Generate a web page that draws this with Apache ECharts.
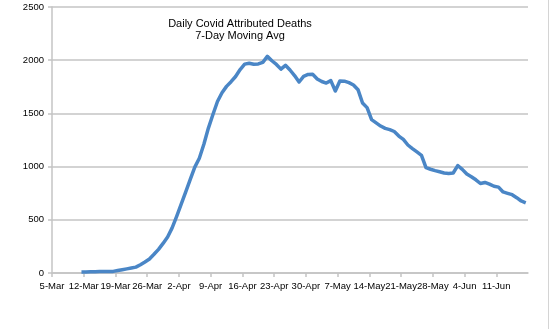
<!DOCTYPE html>
<html>
<head>
<meta charset="utf-8">
<script src="https://cdn.jsdelivr.net/npm/echarts@6/dist/echarts.min.js"></script>
<style>
html,body{margin:0;padding:0;background:#fff;}
#chart{width:550px;height:329px;}
</style>
</head>
<body>
<div id="chart"></div>
<script>
// Axis starts at 5-Mar; ticks every 7 days
const axisStart = '2020-03-05';
const seriesStart = '2020-03-11';
const tickLabels = ['5-Mar','12-Mar','19-Mar','26-Mar','2-Apr','9-Apr','16-Apr','23-Apr','30-Apr','7-May','14-May','21-May','28-May','4-Jun','11-Jun'];
const yTicks = [0, 500, 1000, 1500, 2000, 2500];
// 7-day moving average of daily deaths, one value per day from 11-Mar to 17-Jun
const deaths = [
  10, 10, 12, 12, 13, 14, 15, 15, 23, 31, 39, 47, 55, 78,
  104, 132, 176, 222, 278, 339, 424, 532, 647, 763, 880, 995, 1078, 1210,
  1362, 1490, 1612, 1694, 1754, 1798, 1847, 1912, 1963, 1972, 1962, 1965, 1980, 2036,
  1995, 1960, 1916, 1952, 1908, 1856, 1795, 1848, 1866, 1867, 1824, 1800, 1785, 1808,
  1710, 1805, 1803, 1789, 1767, 1723, 1598, 1554, 1441, 1411, 1381, 1359, 1348, 1330,
  1287, 1255, 1203, 1169, 1138, 1106, 990, 975, 962, 951, 940, 935, 940, 1010,
  974, 930, 905, 876, 841, 851, 835, 815, 807, 762, 749, 736, 708, 677, 660
];

const dayMs = 86400000;
const offset = Math.round((Date.parse(seriesStart) - Date.parse(axisStart)) / dayMs);
const points = deaths.map((v, i) => [offset + i + 0.5, v]);

const font = 'Liberation Sans, Arial, sans-serif';
const gridColor = '#c4c4c4';

const chart = echarts.init(document.getElementById('chart'), null, {renderer: 'canvas'});
chart.setOption({
  animation: false,
  backgroundColor: '#fff',
  title: {
    text: 'Daily Covid Attributed Deaths\n7-Day Moving Avg',
    left: 235,
    top: 13,
    textAlign: 'center',
    textStyle: {fontFamily: font, fontSize: 11, fontWeight: 'normal', color: '#000', lineHeight: 12, align: 'center'}
  },
  grid: {left: 52, right: 22, top: 7, bottom: 56, containLabel: false},
  xAxis: {
    type: 'value',
    min: 0,
    max: tickLabels.length * 7,
    interval: 7,
    splitLine: {show: false},
    axisLine: {show: true, lineStyle: {color: gridColor, width: 1.5}},
    axisTick: {show: true, length: 4, lineStyle: {color: gridColor, width: 1.5}},
    axisLabel: {
      showMaxLabel: false,
      margin: 8,
      fontFamily: font, fontSize: 9.5, color: '#000',
      formatter: v => tickLabels[Math.round(v / 7)] || ''
    }
  },
  yAxis: {
    type: 'value',
    min: yTicks[0],
    max: yTicks[yTicks.length - 1],
    interval: 500,
    axisLine: {show: true, lineStyle: {color: gridColor, width: 1.5}},
    axisTick: {show: true, length: 4, lineStyle: {color: gridColor, width: 1.5}},
    splitLine: {show: true, lineStyle: {color: gridColor, width: 1.5}},
    axisLabel: {margin: 8, fontFamily: font, fontSize: 9.5, color: '#000', formatter: v => String(v)}
  },
  series: [{
    type: 'line',
    data: points,
    showSymbol: false,
    symbol: 'none',
    lineStyle: {color: '#4a86c6', width: 3.5, join: 'round'},
    itemStyle: {color: '#4a86c6'}
  }],
  graphic: [{
    type: 'line',
    shape: {x1: 548.5, y1: 0, x2: 548.5, y2: 329},
    style: {stroke: '#d4d4d4', lineWidth: 1}
  }]
});
</script>
</body>
</html>
